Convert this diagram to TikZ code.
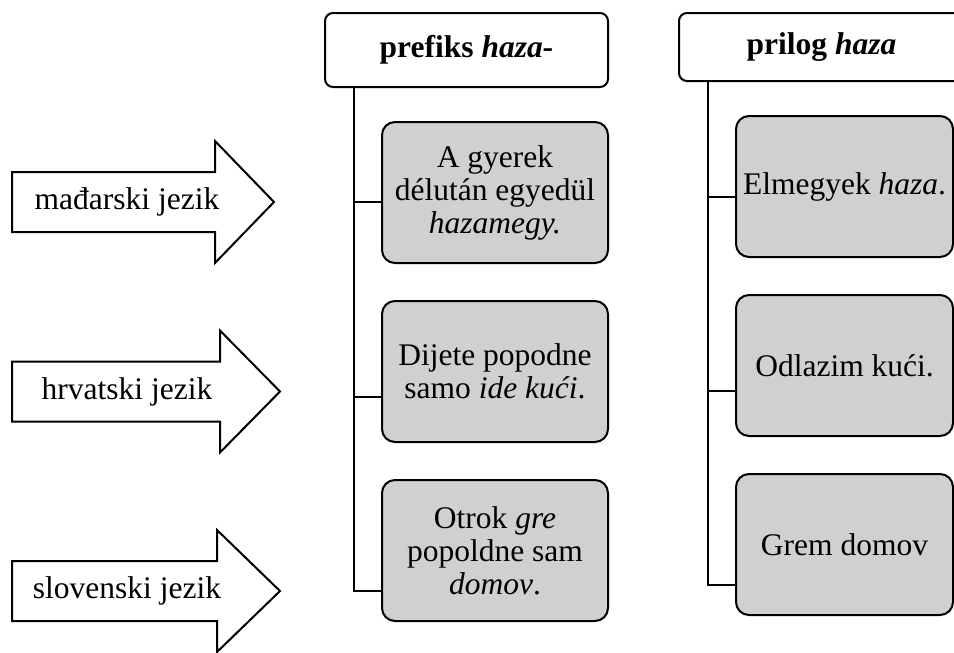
\documentclass[tikz,border=0pt]{standalone}
\usepackage{fontspec}
\setmainfont{Liberation Serif}
\usetikzlibrary{positioning}
\definecolor{boxgray}{RGB}{208,208,208}
\tikzset{
        head/.style={draw,rounded corners=8pt,fill=white,line width=2pt,font=\fontsize{31.5}{33}\selectfont\bfseries,inner sep=0pt},
        item/.style={draw,rounded corners=13pt,fill=boxgray,line width=2pt,minimum width=226pt,minimum height=141pt,align=center,inner sep=0pt},
        spine/.style={line width=2pt},
        lang/.style={draw,line width=2pt,fill=white}
    }

\begin{document}
\begin{tikzpicture}[x=1pt,y=-1pt,font=\fontsize{31.5}{33}\selectfont]
\useasboundingbox (0,0) rectangle (954,653);
\clip (0,0) rectangle (954,653);
% language arrows
\foreach \y/\h/\t/\lab [count=\i] in {202/215/274/mađarski jezik, 391.5/220/280/hrvatski jezik, 591/217/280/slovenski jezik}{
\draw[lang] (12,\y-30) -- (\h,\y-30) -- (\h,\y-61) -- (\t,\y) -- (\h,\y+61) -- (\h,\y+30) -- (12,\y+30) -- cycle;
\node(lang\i) at (127,\y) {\lab};
}
% prefiks column
\node(PF)[head,minimum width=283pt,minimum height=74pt] at (466.5,50) {prefiks \textit{haza-}};
\node(A1)[item] at (495,192.5) {A gyerek\\délután egyedül\\\textit{hazamegy.}};
\node(A2)[item,below=36pt of A1] {Dijete popodne\\samo \textit{ide kući}.};
\node(A3)[item,below=36pt of A2] {Otrok \textit{gre}\\popoldne sam\\\textit{domov}.};
\coordinate (jA1) at (354,202);
\coordinate (jA2) at (354,397);
\coordinate (jA3) at (354,591);
\draw[spine] (PF.south -| jA3) -- (jA3) -- (jA3 -| A3.west);
\draw[spine] (jA1) -- (jA1 -| A1.west);
\draw[spine] (jA2) -- (jA2 -| A2.west);
% prilog column
\node(PR)[head,minimum width=285pt,minimum height=68pt] at (821.5,47) {prilog \textit{haza}};
\node(B1)[item,minimum width=217pt] at (844.5,186.5) {Elmegyek \textit{haza}.};
\node(B2)[item,minimum width=217pt,below=36pt of B1] {Odlazim kući.};
\node(B3)[item,minimum width=217pt,below=36pt of B2] {Grem domov};
\coordinate (jB1) at (708,197);
\coordinate (jB2) at (708,391);
\coordinate (jB3) at (708,585);
\draw[spine] (PR.south -| jB3) -- (jB3) -- (jB3 -| B3.west);
\draw[spine] (jB1) -- (jB1 -| B1.west);
\draw[spine] (jB2) -- (jB2 -| B2.west);

\end{tikzpicture}
\end{document}
